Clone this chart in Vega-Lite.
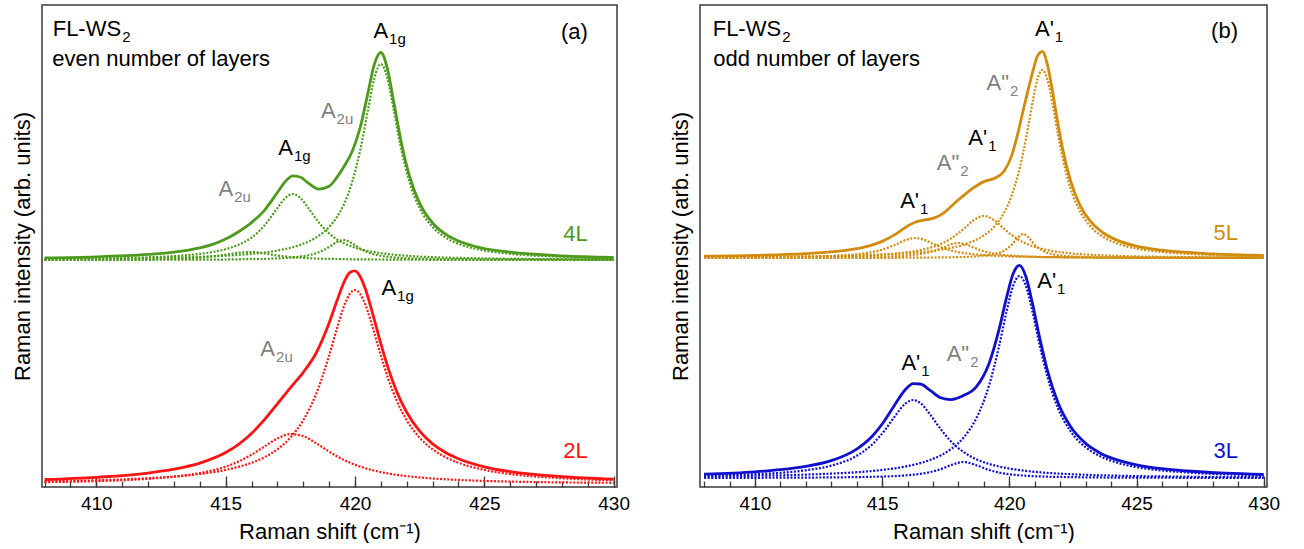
{
  "$schema": "https://vega.github.io/schema/vega-lite/v6.json",
  "padding": {"left": 10, "top": 4, "right": 0, "bottom": 0},
  "bounds": "flush",
  "spacing": 83,
  "config": {
    "font": "Liberation Sans",
    "view": {"stroke": "#3a3a3a", "strokeWidth": 1.5},
    "axis": {"grid": false, "labelFont": "Liberation Sans", "titleFont": "Liberation Sans", "labelFontSize": 19, "titleFontSize": 22, "titleFontWeight": "normal", "labelColor": "#000", "titleColor": "#000"},
    "text": {"font": "Liberation Sans"}
  },
  "datasets": {
    "A": [
      {"s":"4L","x":408,"t":229.2,"c1":227.9,"c2":227.9,"c3":227.1,"c4":227.2},
      {"s":"4L","x":410,"t":230.2,"c1":228.3,"c2":228.5,"c3":227.1,"c4":227.3},
      {"s":"4L","x":412,"t":232.6,"c1":228.9,"c2":229.7,"c3":227.2,"c4":227.8},
      {"s":"4L","x":413,"t":234.8,"c1":229.5,"c2":230.9,"c3":227.3,"c4":228.3},
      {"s":"4L","x":414,"t":239.1,"c1":230.2,"c2":233.1,"c3":227.4,"c4":229.4},
      {"s":"4L","x":414.5,"t":242.6,"c1":230.7,"c2":235,"c3":227.4,"c4":230.6},
      {"s":"4L","x":415,"t":247.9,"c1":231.3,"c2":237.8,"c3":227.5,"c4":232.3},
      {"s":"4L","x":415.5,"t":255.3,"c1":232.1,"c2":242.2,"c3":227.7,"c4":234.3},
      {"s":"4L","x":416,"t":264.4,"c1":233.2,"c2":249.4,"c3":227.9,"c4":235},
      {"s":"4L","x":416.5,"t":276.7,"c1":234.5,"c2":261.5,"c3":228.1,"c4":233.5},
      {"s":"4L","x":417,"t":294.5,"c1":236.5,"c2":278.9,"c3":228.6,"c4":231.5},
      {"s":"4L","x":417.3,"t":305.3,"c1":238,"c2":288.8,"c3":229,"c4":230.6},
      {"s":"4L","x":417.6,"t":311.2,"c1":239.8,"c2":293,"c3":229.6,"c4":229.8},
      {"s":"4L","x":417.9,"t":309.7,"c1":242.2,"c2":288.8,"c3":230.4,"c4":229.3},
      {"s":"4L","x":418.2,"t":303.8,"c1":245.4,"c2":278.9,"c3":231.7,"c4":228.8},
      {"s":"4L","x":418.6,"t":297.9,"c1":251.2,"c2":264.6,"c3":234.7,"c4":228.4},
      {"s":"4L","x":419,"t":300.7,"c1":260,"c2":253.6,"c3":240,"c4":228.1},
      {"s":"4L","x":419.3,"t":309.6,"c1":269.9,"c2":247.7,"c3":245,"c4":228},
      {"s":"4L","x":419.6,"t":321.5,"c1":284.3,"c2":243.4,"c3":247,"c4":227.8},
      {"s":"4L","x":419.9,"t":336,"c1":305.7,"c2":240.2,"c3":243.4,"c4":227.7},
      {"s":"4L","x":420.2,"t":359.3,"c1":336.5,"c2":237.8,"c3":238.4,"c4":227.6},
      {"s":"4L","x":420.5,"t":393.9,"c1":376.7,"c2":236,"c3":234.7,"c4":227.6},
      {"s":"4L","x":420.75,"t":422.9,"c1":409,"c2":234.8,"c3":232.6,"c4":227.5},
      {"s":"4L","x":421,"t":434.5,"c1":423,"c2":233.8,"c3":231.2,"c4":227.5},
      {"s":"4L","x":421.25,"t":418.6,"c1":409,"c2":233,"c3":230.3,"c4":227.4},
      {"s":"4L","x":421.5,"t":384.9,"c1":376.7,"c2":232.3,"c3":229.6,"c4":227.4},
      {"s":"4L","x":421.8,"t":343.5,"c1":336.5,"c2":231.6,"c3":229,"c4":227.4},
      {"s":"4L","x":422.1,"t":311.7,"c1":305.7,"c2":231.1,"c3":228.6,"c4":227.3},
      {"s":"4L","x":422.5,"t":283.8,"c1":278.9,"c2":230.4,"c3":228.2,"c4":227.3},
      {"s":"4L","x":423,"t":264,"c1":260,"c2":229.9,"c3":227.9,"c4":227.2},
      {"s":"4L","x":423.5,"t":252.8,"c1":249.5,"c2":229.4,"c3":227.7,"c4":227.2},
      {"s":"4L","x":424,"t":246,"c1":243.2,"c2":229.1,"c3":227.6,"c4":227.2},
      {"s":"4L","x":425,"t":238.5,"c1":236.5,"c2":228.6,"c3":227.4,"c4":227.2},
      {"s":"4L","x":426,"t":234.8,"c1":233.2,"c2":228.2,"c3":227.3,"c4":227.1},
      {"s":"4L","x":428,"t":231.2,"c1":230.2,"c2":227.8,"c3":227.2,"c4":227.1},
      {"s":"4L","x":430,"t":229.7,"c1":228.9,"c2":227.6,"c3":227.1,"c4":227.1},
      {"s":"2L","x":408,"t":7.5,"c1":5.6,"c2":4.9},
      {"s":"2L","x":410,"t":9.7,"c1":6.7,"c2":5.9},
      {"s":"2L","x":412,"t":13.9,"c1":8.8,"c2":8.2},
      {"s":"2L","x":413,"t":17.8,"c1":10.5,"c2":10.3},
      {"s":"2L","x":414,"t":23.9,"c1":13,"c2":13.9},
      {"s":"2L","x":415,"t":34.5,"c1":17.1,"c2":20.4},
      {"s":"2L","x":415.5,"t":42.7,"c1":20.2,"c2":25.5},
      {"s":"2L","x":416,"t":53.5,"c1":24.2,"c2":32.3},
      {"s":"2L","x":416.5,"t":67.3,"c1":29.8,"c2":40.5},
      {"s":"2L","x":417,"t":83.2,"c1":37.7,"c2":48.5},
      {"s":"2L","x":417.5,"t":99.2,"c1":49.3,"c2":52.9},
      {"s":"2L","x":418,"t":114.7,"c1":66.8,"c2":50.9},
      {"s":"2L","x":418.5,"t":134,"c1":93.2,"c2":43.8},
      {"s":"2L","x":419,"t":163.9,"c1":131.5,"c2":35.4},
      {"s":"2L","x":419.3,"t":186,"c1":158.2,"c2":30.8},
      {"s":"2L","x":419.6,"t":206.1,"c1":182.4,"c2":26.7},
      {"s":"2L","x":419.8,"t":214.5,"c1":193.1,"c2":24.4},
      {"s":"2L","x":420,"t":216.2,"c1":197,"c2":22.2},
      {"s":"2L","x":420.2,"t":210.5,"c1":193.1,"c2":20.4},
      {"s":"2L","x":420.4,"t":198.2,"c1":182.4,"c2":18.8},
      {"s":"2L","x":420.7,"t":171.9,"c1":158.2,"c2":16.7},
      {"s":"2L","x":421,"t":143.4,"c1":131.5,"c2":14.9},
      {"s":"2L","x":421.3,"t":117.6,"c1":107.2,"c2":13.4},
      {"s":"2L","x":421.6,"t":96.3,"c1":87.1,"c2":12.2},
      {"s":"2L","x":422,"t":74.7,"c1":66.8,"c2":10.9},
      {"s":"2L","x":422.5,"t":55.8,"c1":49.3,"c2":9.5},
      {"s":"2L","x":423,"t":43.2,"c1":37.7,"c2":8.5},
      {"s":"2L","x":423.5,"t":34.5,"c1":29.8,"c2":7.7},
      {"s":"2L","x":424,"t":28.3,"c1":24.2,"c2":7.1},
      {"s":"2L","x":425,"t":20.2,"c1":17.1,"c2":6.1},
      {"s":"2L","x":426,"t":15.4,"c1":13,"c2":5.4},
      {"s":"2L","x":428,"t":10.4,"c1":8.8,"c2":4.6},
      {"s":"2L","x":430,"t":7.9,"c1":6.7,"c2":4.2}
    ],
    "B": [
      {"s":"5L","x":408,"t":230.8,"c1":229.8,"c2":229.5,"c3":229.4,"c4":229.1,"c5":229},
      {"s":"5L","x":410,"t":231.6,"c1":230.1,"c2":229.7,"c3":229.6,"c4":229.2,"c5":229.1},
      {"s":"5L","x":412,"t":233.4,"c1":230.6,"c2":230.2,"c3":230.2,"c4":229.3,"c5":229.1},
      {"s":"5L","x":413,"t":235.1,"c1":231,"c2":230.6,"c3":231,"c4":229.5,"c5":229.1},
      {"s":"5L","x":414,"t":238.4,"c1":231.5,"c2":231.3,"c3":232.7,"c4":229.7,"c5":229.1},
      {"s":"5L","x":414.5,"t":241.2,"c1":231.9,"c2":231.8,"c3":234.4,"c4":229.9,"c5":229.2},
      {"s":"5L","x":415,"t":245.6,"c1":232.4,"c2":232.5,"c3":237.3,"c4":230.2,"c5":229.2},
      {"s":"5L","x":415.5,"t":252.4,"c1":233,"c2":233.4,"c3":242.1,"c4":230.7,"c5":229.2},
      {"s":"5L","x":416,"t":260.9,"c1":233.7,"c2":234.8,"c3":247.6,"c4":231.5,"c5":229.3},
      {"s":"5L","x":416.3,"t":264.8,"c1":234.3,"c2":235.9,"c3":249,"c4":232.3,"c5":229.3},
      {"s":"5L","x":416.6,"t":266.7,"c1":235,"c2":237.4,"c3":247.6,"c4":233.4,"c5":229.4},
      {"s":"5L","x":417,"t":268.6,"c1":236.1,"c2":240.1,"c3":243.2,"c4":235.7,"c5":229.5},
      {"s":"5L","x":417.4,"t":273.6,"c1":237.6,"c2":244.1,"c3":239,"c4":239.4,"c5":229.6},
      {"s":"5L","x":417.7,"t":280.2,"c1":239,"c2":248.4,"c3":236.6,"c4":242.5,"c5":229.7},
      {"s":"5L","x":418,"t":287.3,"c1":240.7,"c2":253.8,"c3":234.9,"c4":244,"c5":229.9},
      {"s":"5L","x":418.3,"t":293.5,"c1":243,"c2":260.3,"c3":233.7,"c4":242.5,"c5":230.1},
      {"s":"5L","x":418.6,"t":299.4,"c1":246,"c2":266.8,"c3":232.7,"c4":239.4,"c5":230.5},
      {"s":"5L","x":419,"t":305.4,"c1":251.6,"c2":271,"c3":231.9,"c4":235.7,"c5":231.3},
      {"s":"5L","x":419.4,"t":308.6,"c1":260.3,"c2":266.8,"c3":231.2,"c4":233.4,"c5":232.8},
      {"s":"5L","x":419.8,"t":316,"c1":274.7,"c2":258.1,"c3":230.8,"c4":232,"c5":236.4},
      {"s":"5L","x":420.1,"t":331.9,"c1":291.9,"c2":251.8,"c3":230.5,"c4":231.3,"c5":242.3},
      {"s":"5L","x":420.35,"t":355.1,"c1":312.6,"c2":247.5,"c3":230.4,"c4":230.9,"c5":249.7},
      {"s":"5L","x":420.55,"t":377.3,"c1":334.7,"c2":244.7,"c3":230.3,"c4":230.7,"c5":253},
      {"s":"5L","x":420.75,"t":398.2,"c1":361.5,"c2":242.4,"c3":230.2,"c4":230.5,"c5":249.7},
      {"s":"5L","x":420.95,"t":418.1,"c1":389.7,"c2":240.5,"c3":230.1,"c4":230.3,"c5":243.6},
      {"s":"5L","x":421.1,"t":430.6,"c1":407.2,"c2":239.3,"c3":230,"c4":230.2,"c5":239.9},
      {"s":"5L","x":421.3,"t":435.3,"c1":417,"c2":238,"c3":229.9,"c4":230,"c5":236.4},
      {"s":"5L","x":421.5,"t":422.1,"c1":407.2,"c2":236.9,"c3":229.9,"c4":229.9,"c5":234.2},
      {"s":"5L","x":421.7,"t":395.4,"c1":383,"c2":235.9,"c3":229.8,"c4":229.8,"c5":232.8},
      {"s":"5L","x":421.9,"t":365.1,"c1":354.5,"c2":235.1,"c3":229.8,"c4":229.8,"c5":231.9},
      {"s":"5L","x":422.1,"t":337.8,"c1":328.7,"c2":234.5,"c3":229.7,"c4":229.7,"c5":231.3},
      {"s":"5L","x":422.4,"t":306.8,"c1":299.3,"c2":233.7,"c3":229.6,"c4":229.6,"c5":230.6},
      {"s":"5L","x":422.8,"t":280.7,"c1":274.7,"c2":232.8,"c3":229.6,"c4":229.5,"c5":230.1},
      {"s":"5L","x":423.2,"t":265.3,"c1":260.3,"c2":232.2,"c3":229.5,"c4":229.4,"c5":229.8},
      {"s":"5L","x":423.7,"t":254,"c1":250,"c2":231.6,"c3":229.4,"c4":229.4,"c5":229.6},
      {"s":"5L","x":424.3,"t":246.1,"c1":243,"c2":231.1,"c3":229.4,"c4":229.3,"c5":229.4},
      {"s":"5L","x":425,"t":240.9,"c1":238.4,"c2":230.6,"c3":229.3,"c4":229.2,"c5":229.3},
      {"s":"5L","x":426,"t":236.8,"c1":235,"c2":230.2,"c3":229.3,"c4":229.2,"c5":229.2},
      {"s":"5L","x":428,"t":233.1,"c1":232,"c2":229.7,"c3":229.2,"c4":229.1,"c5":229.1},
      {"s":"5L","x":430,"t":231.6,"c1":230.8,"c2":229.5,"c3":229.1,"c4":229.1,"c5":229.1},
      {"s":"3L","x":408,"t":12.9,"c1":10.6,"c2":11.2,"c3":9.2},
      {"s":"3L","x":410,"t":15.2,"c1":11.2,"c2":12.8,"c3":9.2},
      {"s":"3L","x":411,"t":17.3,"c1":11.7,"c2":14.2,"c3":9.3},
      {"s":"3L","x":412,"t":20.6,"c1":12.4,"c2":16.7,"c3":9.4},
      {"s":"3L","x":413,"t":26.3,"c1":13.4,"c2":21.4,"c3":9.6},
      {"s":"3L","x":414,"t":37.9,"c1":14.8,"c2":31.2,"c3":9.9},
      {"s":"3L","x":414.6,"t":50.5,"c1":16,"c2":42.3,"c3":10.2},
      {"s":"3L","x":415.1,"t":66.5,"c1":17.4,"c2":56.6,"c3":10.5},
      {"s":"3L","x":415.5,"t":82.3,"c1":18.7,"c2":70.7,"c3":10.9},
      {"s":"3L","x":415.9,"t":97,"c1":20.4,"c2":83.1,"c3":11.5},
      {"s":"3L","x":416.22,"t":103.4,"c1":22.1,"c2":87,"c3":12.3},
      {"s":"3L","x":416.5,"t":103,"c1":23.9,"c2":84,"c3":13.1},
      {"s":"3L","x":416.9,"t":96.3,"c1":27.2,"c2":72.1,"c3":15},
      {"s":"3L","x":417.3,"t":89.3,"c1":31.6,"c2":57.9,"c3":17.8},
      {"s":"3L","x":417.7,"t":87.4,"c1":37.8,"c2":45.8,"c3":21.8},
      {"s":"3L","x":418.2,"t":91.4,"c1":49.4,"c2":35,"c3":25},
      {"s":"3L","x":418.7,"t":100.2,"c1":68.6,"c2":27.8,"c3":21.8},
      {"s":"3L","x":419.2,"t":123.3,"c1":101.2,"c2":23.1,"c3":17},
      {"s":"3L","x":419.6,"t":157.9,"c1":141.1,"c2":20.4,"c3":14.4},
      {"s":"3L","x":419.9,"t":190.4,"c1":176.4,"c2":18.9,"c3":13.1},
      {"s":"3L","x":420.15,"t":213.2,"c1":201.1,"c2":17.8,"c3":12.3},
      {"s":"3L","x":420.4,"t":221.6,"c1":211,"c2":16.9,"c3":11.7},
      {"s":"3L","x":420.65,"t":210.5,"c1":201.1,"c2":16.1,"c3":11.3},
      {"s":"3L","x":420.9,"t":184.7,"c1":176.4,"c2":15.4,"c3":10.9},
      {"s":"3L","x":421.2,"t":148.4,"c1":141.1,"c2":14.7,"c3":10.6},
      {"s":"3L","x":421.5,"t":116.5,"c1":110,"c2":14.1,"c3":10.3},
      {"s":"3L","x":421.9,"t":85.2,"c1":79.6,"c2":13.5,"c3":10.1},
      {"s":"3L","x":422.4,"t":60.7,"c1":56,"c2":12.8,"c3":9.9},
      {"s":"3L","x":423,"t":43.6,"c1":39.7,"c2":12.2,"c3":9.7},
      {"s":"3L","x":423.6,"t":33.6,"c1":30.4,"c2":11.7,"c3":9.5},
      {"s":"3L","x":424.3,"t":26.6,"c1":23.9,"c2":11.3,"c3":9.4},
      {"s":"3L","x":425,"t":22.2,"c1":19.9,"c2":10.9,"c3":9.3},
      {"s":"3L","x":426,"t":18.3,"c1":16.5,"c2":10.6,"c3":9.3},
      {"s":"3L","x":427,"t":16,"c1":14.5,"c2":10.3,"c3":9.2},
      {"s":"3L","x":428.5,"t":13.8,"c1":12.7,"c2":10,"c3":9.2},
      {"s":"3L","x":430,"t":12.5,"c1":11.6,"c2":9.8,"c3":9.1}
    ],
    "LA": [
      {"x":410.96,"y":458,"t":"FL-WS","sub":"2","g":"R","k":"m"},
      {"x":408.3,"y":428,"t":"even number of layers","sub":"","g":"R","k":"n"},
      {"x":429.0,"y":455,"t":"(a)","sub":"","g":"R","k":"m"},
      {"x":421.28,"y":456,"t":"A","sub":"1g","g":"R","k":"m"},
      {"x":419.25,"y":376,"t":"A","sub":"2u","g":"IR","k":"m"},
      {"x":417.6,"y":339,"t":"A","sub":"1g","g":"R","k":"m"},
      {"x":415.29,"y":298,"t":"A","sub":"2u","g":"IR","k":"m"},
      {"x":429.0,"y":253,"t":"4L","sub":"","g":"4L","k":"m"},
      {"x":421.59,"y":199,"t":"A","sub":"1g","g":"R","k":"m"},
      {"x":416.91,"y":138,"t":"A","sub":"2u","g":"IR","k":"m"},
      {"x":429.0,"y":36,"t":"2L","sub":"","g":"2L","k":"m"}
    ],
    "LB": [
      {"x":411.03,"y":458,"t":"FL-WS","sub":"2","g":"R","k":"m"},
      {"x":408.36,"y":428,"t":"odd number of layers","sub":"","g":"R","k":"n"},
      {"x":428.99,"y":456,"t":"(b)","sub":"","g":"R","k":"m"},
      {"x":421.75,"y":458,"t":"A'","sub":"1","g":"R","k":"m"},
      {"x":419.99,"y":404,"t":"A\"","sub":"2","g":"IR","k":"m"},
      {"x":419.13,"y":349,"t":"A'","sub":"1","g":"R","k":"m"},
      {"x":418.03,"y":324,"t":"A\"","sub":"2","g":"IR","k":"m"},
      {"x":416.45,"y":286,"t":"A'","sub":"1","g":"R","k":"m"},
      {"x":428.99,"y":254,"t":"5L","sub":"","g":"5L","k":"m"},
      {"x":421.84,"y":206,"t":"A'","sub":"1","g":"R","k":"m"},
      {"x":418.42,"y":133,"t":"A\"","sub":"2","g":"IR","k":"m"},
      {"x":416.5,"y":124,"t":"A'","sub":"1","g":"R","k":"m"},
      {"x":428.99,"y":36,"t":"3L","sub":"","g":"3L","k":"m"}
    ]
  },
  "hconcat": [
    {
      "width": 575,
      "height": 482,
      "resolve": {"axis": {"x": "independent"}},
      "layer": [
        {
          "data": {"name": "A"},
          "transform": [{"fold": ["t","c1","c2","c3","c4","c5"], "as": ["c","y"]}, {"filter": "isValid(datum.y) && datum.c !== 't'"}],
          "mark": {"type": "line", "strokeDash": [2, 1.6], "strokeWidth": 2.2, "interpolate": "monotone"},
          "encoding": {
            "x": {"field": "x", "type": "quantitative", "scale": {"domain": [407.9, 430.13], "nice": false, "zero": false},
              "axis": {"orient": "bottom", "values": [408,409,410,411,412,413,414,415,416,417,418,419,420,421,422,423,424,425,426,427,428,429,430],
                "labels": false, "tickSize": -6, "tickColor": "#3a3a3a", "tickWidth": 1.3, "domain": false, "title": null}},
            "y": {"field": "y", "type": "quantitative", "scale": {"domain": [0, 482], "nice": false, "zero": false},
              "axis": {"title": "Raman intensity (arb. units)", "labels": false, "ticks": false, "domain": false, "titlePadding": 8}},
            "color": {"field": "s", "type": "nominal", "legend": null,
              "scale": {"domain": ["4L","2L","5L","3L","R","IR"], "range": ["#4e9a1d","#fb1414","#d18c0e","#1010cc","#000000","#7f7f7f"]}},
            "detail": {"field": "c"}
          }
        },
        {
          "data": {"name": "A"},
          "transform": [{"fold": ["t","c1","c2","c3","c4","c5"], "as": ["c","y"]}, {"filter": "isValid(datum.y) && datum.c === 't'"}],
          "mark": {"type": "line", "strokeWidth": 2.8, "interpolate": "monotone"},
          "encoding": {
            "x": {"field": "x", "type": "quantitative",
              "axis": {"orient": "bottom", "values": [410,415,420,425,430], "tickSize": -11, "tickColor": "#3a3a3a", "tickWidth": 1.3,
                "domain": false, "labelFlush": false, "labelPadding": 18, "titlePadding": 8, "title": "Raman shift (cm⁻¹)"}},
            "y": {"field": "y", "type": "quantitative"},
            "color": {"field": "s", "type": "nominal", "legend": null},
            "detail": {"field": "c"}
          }
        },
        {
          "data": {"name": "LA"},
          "transform": [{"filter": "datum.k === 'n'"}],
          "mark": {"type": "text", "align": "left", "baseline": "middle", "fontSize": 22},
          "encoding": {"x": {"field": "x", "type": "quantitative", "axis": null}, "y": {"field": "y", "type": "quantitative"}, "text": {"field": "t"}, "color": {"field": "g", "type": "nominal", "legend": null}}
        },
        {
          "data": {"name": "LA"},
          "transform": [{"filter": "datum.k === 'm'"}],
          "mark": {"type": "text", "align": "right", "baseline": "middle", "fontSize": 22},
          "encoding": {"x": {"field": "x", "type": "quantitative", "axis": null}, "y": {"field": "y", "type": "quantitative"}, "text": {"field": "t"}, "color": {"field": "g", "type": "nominal", "legend": null}}
        },
        {
          "data": {"name": "LA"},
          "transform": [{"filter": "datum.sub !== ''"}],
          "mark": {"type": "text", "align": "left", "baseline": "middle", "fontSize": 15, "dy": 8, "dx": 1},
          "encoding": {"x": {"field": "x", "type": "quantitative", "axis": null}, "y": {"field": "y", "type": "quantitative"}, "text": {"field": "sub"}, "color": {"field": "g", "type": "nominal", "legend": null}}
        }
      ]
    },
    {
      "width": 567,
      "height": 482,
      "resolve": {"axis": {"x": "independent"}},
      "layer": [
        {
          "data": {"name": "B"},
          "transform": [{"fold": ["t","c1","c2","c3","c4","c5"], "as": ["c","y"]}, {"filter": "isValid(datum.y) && datum.c !== 't'"}],
          "mark": {"type": "line", "strokeDash": [2, 1.6], "strokeWidth": 2.2, "interpolate": "monotone"},
          "encoding": {
            "x": {"field": "x", "type": "quantitative", "scale": {"domain": [407.84, 430.13], "nice": false, "zero": false},
              "axis": {"orient": "bottom", "values": [408,409,410,411,412,413,414,415,416,417,418,419,420,421,422,423,424,425,426,427,428,429,430],
                "labels": false, "tickSize": -6, "tickColor": "#3a3a3a", "tickWidth": 1.3, "domain": false, "title": null}},
            "y": {"field": "y", "type": "quantitative", "scale": {"domain": [0, 482], "nice": false, "zero": false},
              "axis": {"title": "Raman intensity (arb. units)", "labels": false, "ticks": false, "domain": false, "titlePadding": 8}},
            "color": {"field": "s", "type": "nominal", "legend": null},
            "detail": {"field": "c"}
          }
        },
        {
          "data": {"name": "B"},
          "transform": [{"fold": ["t","c1","c2","c3","c4","c5"], "as": ["c","y"]}, {"filter": "isValid(datum.y) && datum.c === 't'"}],
          "mark": {"type": "line", "strokeWidth": 2.8, "interpolate": "monotone"},
          "encoding": {
            "x": {"field": "x", "type": "quantitative",
              "axis": {"orient": "bottom", "values": [410,415,420,425,430], "tickSize": -11, "tickColor": "#3a3a3a", "tickWidth": 1.3,
                "domain": false, "labelFlush": false, "labelPadding": 18, "titlePadding": 8, "title": "Raman shift (cm⁻¹)"}},
            "y": {"field": "y", "type": "quantitative"},
            "color": {"field": "s", "type": "nominal", "legend": null},
            "detail": {"field": "c"}
          }
        },
        {
          "data": {"name": "LB"},
          "transform": [{"filter": "datum.k === 'n'"}],
          "mark": {"type": "text", "align": "left", "baseline": "middle", "fontSize": 22},
          "encoding": {"x": {"field": "x", "type": "quantitative", "axis": null}, "y": {"field": "y", "type": "quantitative"}, "text": {"field": "t"}, "color": {"field": "g", "type": "nominal", "legend": null}}
        },
        {
          "data": {"name": "LB"},
          "transform": [{"filter": "datum.k === 'm'"}],
          "mark": {"type": "text", "align": "right", "baseline": "middle", "fontSize": 22},
          "encoding": {"x": {"field": "x", "type": "quantitative", "axis": null}, "y": {"field": "y", "type": "quantitative"}, "text": {"field": "t"}, "color": {"field": "g", "type": "nominal", "legend": null}}
        },
        {
          "data": {"name": "LB"},
          "transform": [{"filter": "datum.sub !== ''"}],
          "mark": {"type": "text", "align": "left", "baseline": "middle", "fontSize": 15, "dy": 8, "dx": 1},
          "encoding": {"x": {"field": "x", "type": "quantitative", "axis": null}, "y": {"field": "y", "type": "quantitative"}, "text": {"field": "sub"}, "color": {"field": "g", "type": "nominal", "legend": null}}
        }
      ]
    }
  ]
}
